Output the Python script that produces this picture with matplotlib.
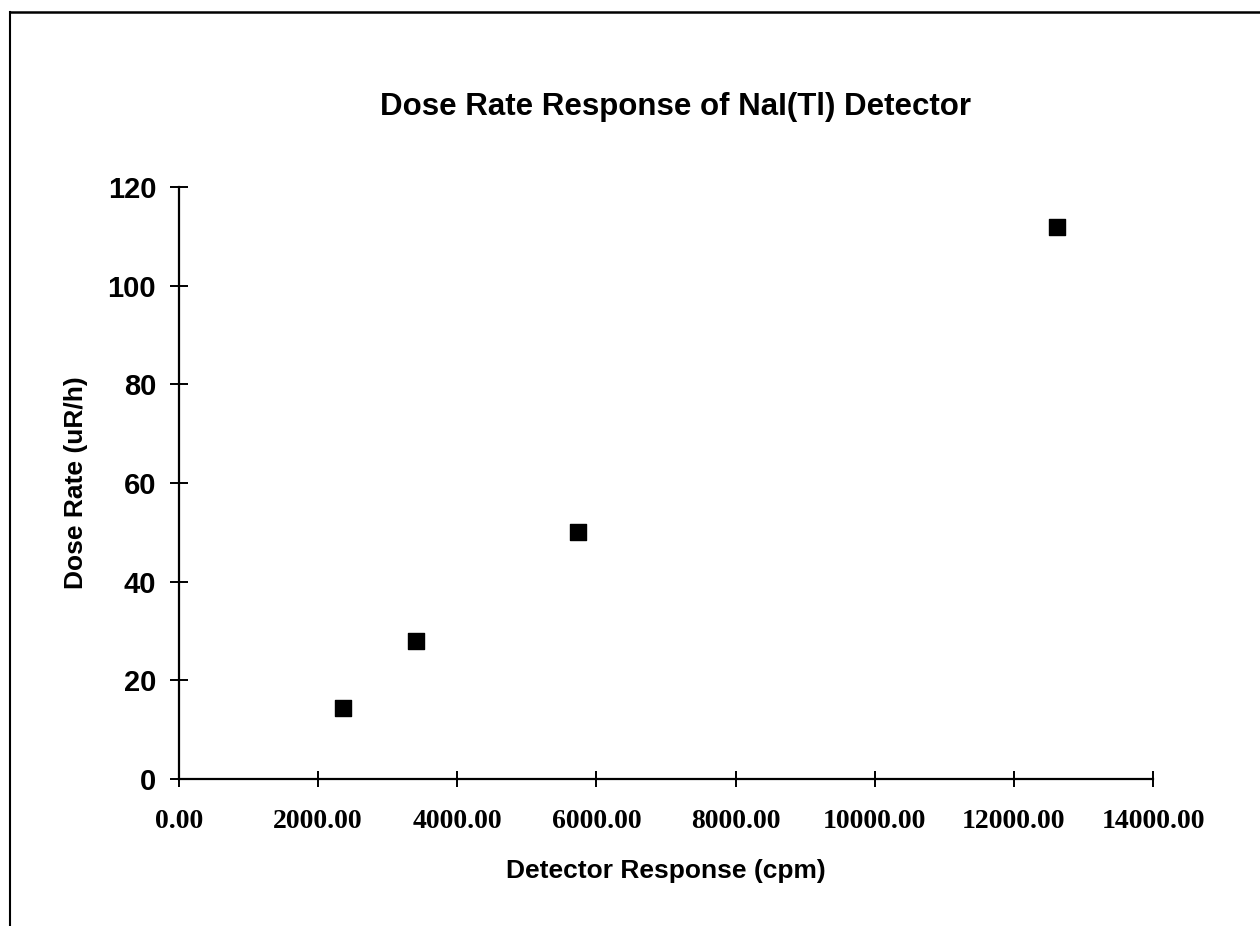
import matplotlib
matplotlib.use("Agg")
import matplotlib.pyplot as plt
from matplotlib.lines import Line2D

# ---------------------------------------------------------
# Data
# ---------------------------------------------------------
detector_cpm = [2360, 3410, 5730, 12620]
dose_rate = [14.5, 28.0, 50.0, 112.0]

x_ticks = [0, 2000, 4000, 6000, 8000, 10000, 12000, 14000]
y_ticks = [0, 20, 40, 60, 80, 100, 120]

TITLE = "Dose Rate Response of NaI(Tl) Detector"
X_LABEL = "Detector Response (cpm)"
Y_LABEL = "Dose Rate (uR/h)"


def main() -> None:
    fig = plt.figure(figsize=(12.6, 9.26), dpi=100)
    ax = fig.add_axes([0.1421, 0.1587, 0.9151 - 0.1421, 0.798 - 0.1587])

    ax.scatter(detector_cpm, dose_rate, marker="s", s=125, color="black",
               edgecolors="black", zorder=3)

    ax.set_xlim(x_ticks[0], x_ticks[-1])
    ax.set_ylim(y_ticks[0], y_ticks[-1])
    ax.set_xticks(x_ticks)
    ax.set_yticks(y_ticks)
    ax.set_xticklabels([f"{v:.2f}" for v in x_ticks],
                       family="Liberation Serif", fontweight="bold", fontsize=20)
    ax.set_yticklabels([str(v) for v in y_ticks],
                       family="Liberation Sans", fontweight="bold", fontsize=21)

    ax.spines["top"].set_visible(False)
    ax.spines["right"].set_visible(False)
    ax.spines["left"].set_linewidth(1.6)
    ax.spines["bottom"].set_linewidth(1.6)
    ax.tick_params(axis="y", direction="inout", length=13, width=1.4, pad=10)
    ax.tick_params(axis="x", direction="inout", length=11, width=1.4, pad=16)

    ax.set_xlabel(X_LABEL, family="Liberation Sans", fontweight="bold",
                  fontsize=19, labelpad=18)
    ax.set_ylabel(Y_LABEL, family="Liberation Sans", fontweight="bold",
                  fontsize=19, labelpad=14)
    fig.text(0.536, 0.884, TITLE, ha="center", va="center",
             family="Liberation Sans", fontweight="bold", fontsize=22.5)

    # scanned page frame: top and left edges
    fig.add_artist(Line2D([0.008, 1.0], [0.987, 0.987], color="black", lw=1.8,
                          transform=fig.transFigure))
    fig.add_artist(Line2D([0.008, 0.008], [0.0, 0.987], color="black", lw=1.5,
                          transform=fig.transFigure))

    fig.savefig("out.png", dpi=100, facecolor="white")
    plt.close(fig)


if __name__ == "__main__":
    main()
